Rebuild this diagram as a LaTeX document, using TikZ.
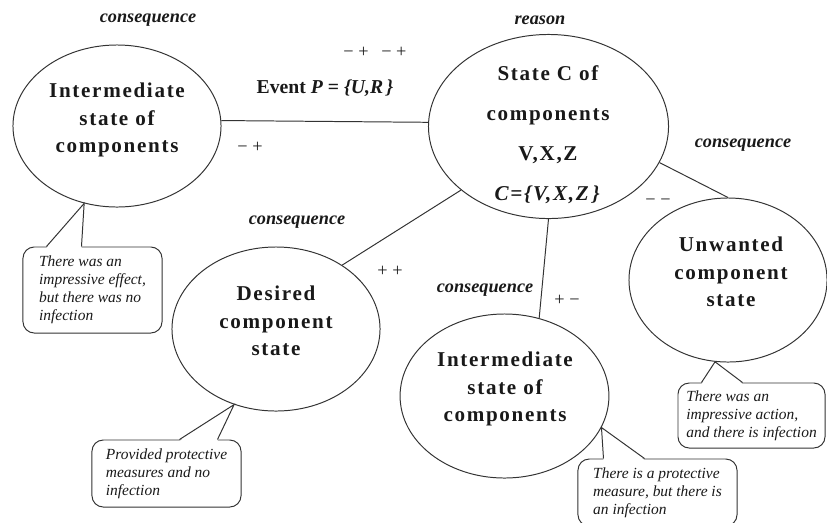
\documentclass[tikz,border=0pt]{standalone}
\usepackage{fontspec}
\setmainfont{Liberation Serif}
\newfontfamily\statefont[LetterSpace=8]{Liberation Serif}
\usetikzlibrary{calc,shapes.geometric}
\tikzset{
  state/.style={draw=black!80, line width=0.7pt, ellipse, inner sep=0pt},
  statetext/.style={align=center, text=black!90, font=\statefont\bfseries\fontsize{15}{19.5}\selectfont},
  note/.style={draw=black!80, line width=0.7pt, rounded corners=8pt, inner sep=0pt, align=left, text=black!90, font=\itshape\fontsize{11}{12.8}\selectfont},
  tag/.style={text=black!90, font=\bfseries\itshape\fontsize{13}{15}\selectfont},
  sign/.style={text=black!90, font=\fontsize{13}{15}\selectfont},
  link/.style={draw=black!80, line width=0.7pt}
}

\begin{document}
\begin{tikzpicture}[x=0.025cm,y=-0.025cm]
  \useasboundingbox (0,0) rectangle (827,522);
  % states
  \node[state, minimum width=5.2cm, minimum height=4.05cm] (e1) at (117,126) {};
  \node[state, minimum width=6cm, minimum height=4.6cm] (e2) at (548.5,126.5) {};
  \node[state, minimum width=5.2cm, minimum height=4.1cm] (e3) at (276,329) {};
  \node[state, minimum width=5.22cm, minimum height=4.1cm] (e4) at (504.5,396) {};
  \node[state, minimum width=4.95cm, minimum height=4.1cm] (e5) at (728,280) {};
  \node[statetext] (t1) at (117,120) {Intermediate\\state of\\components};
  \node[statetext] (t2) at (548,135) {State C of\\[9pt]components\\[9pt]V,X,Z\\[9pt]\textit{C=\{V,X,Z\,\}}};
  \node[statetext] (t3) at (276,321) {Desired\\component\\state};
  \node[statetext] (t4) at (505,389) {Intermediate\\state of\\components};
  \node[statetext] (t5) at (731,272) {Unwanted\\component\\state};
  % links
  \draw[link] (e1.3) -- (e2.178);
  \draw[link] (e2.216) -- (e3.44);
  \draw[link] (e2.south) -- (e4.66);
  \draw[link] (e2.-18) -- (e5.north);
  % labels
  \node[tag] (l1) at (148,20) {consequence};
  \node[tag] (l2) at (540,20) {reason};
  \node[tag] (l3) at (297,222) {consequence};
  \node[tag] (l4) at (743,145) {consequence};
  \node[tag] (l5) at (485,290) {consequence};
  \node[text=black!90, font=\fontsize{14}{16}\selectfont\bfseries] (ev) at (325,88) {Event \textit{P} = \textit{\{U,R\,\}}};
  \node[sign] (s1) at (375,52) {− +\hspace{9pt}− +};
  \node[sign] (s2) at (250,147) {− +};
  \node[sign] (s3) at (658,202) {− −};
  \node[sign] (s4) at (390,271) {+ +};
  \node[sign] (s5) at (567,300) {+ −};
  % notes
  \node[note, minimum width=3.475cm, minimum height=2.15cm] (c1) at (92.5,290)
    {There was an\\impressive effect,\\but there was no\\infection};
  \node[note, minimum width=3.725cm, minimum height=1.675cm] (c2) at (166.5,473.5)
    {Provided protective\\measures and no\\infection};
  \node[note, minimum width=3.975cm, minimum height=1.675cm] (c3) at (657.5,492.5)
    {There is a protective\\measure, but there is\\an infection};
  \node[note, minimum width=3.675cm, minimum height=1.625cm] (c4) at (751.5,415.5)
    {There was an\\impressive action,\\and there is infection};
  % note tails
  \fill[white] ($(c1.north west)+(24,1.5)$) -- (e1.247.6) -- ($(c1.north west)+(59,1.5)$) -- cycle;
  \draw[link] ($(c1.north west)+(24,0)$) -- (e1.247.6) -- ($(c1.north west)+(59,0)$);
  \fill[white] ($(c2.north west)+(88,1.5)$) -- (e3.241) -- ($(c2.north west)+(126,1.5)$) -- cycle;
  \draw[link] ($(c2.north west)+(88,0)$) -- (e3.241) -- ($(c2.north west)+(126,0)$);
  \fill[white] ($(c3.north west)+(26,1.5)$) -- (e4.342.4) -- ($(c3.north west)+(67,1.5)$) -- cycle;
  \draw[link] ($(c3.north west)+(26,0)$) -- (e4.342.4) -- ($(c3.north west)+(67,0)$);
  \fill[white] ($(c4.north west)+(24,1.5)$) -- (e5.261) -- ($(c4.north west)+(65,1.5)$) -- cycle;
  \draw[link] ($(c4.north west)+(24,0)$) -- (e5.261) -- ($(c4.north west)+(65,0)$);
\end{tikzpicture}
\end{document}
